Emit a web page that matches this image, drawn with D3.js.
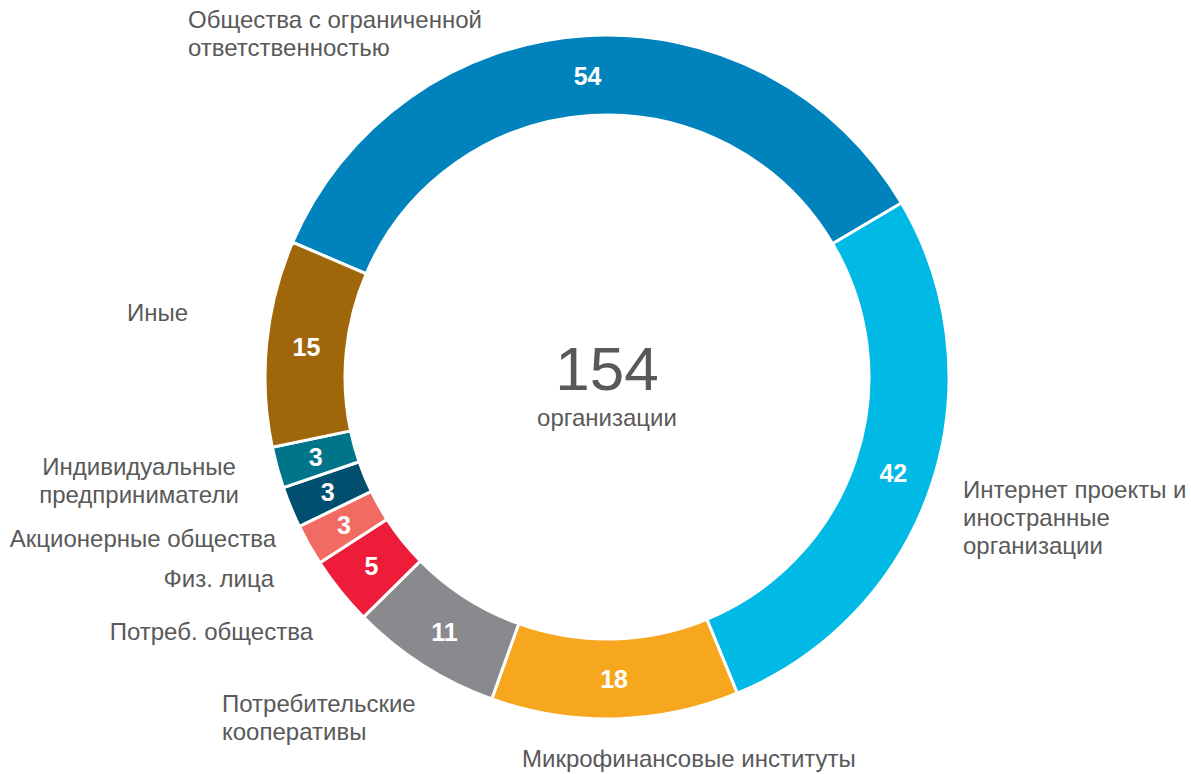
<!DOCTYPE html>
<html>
<head>
<meta charset="utf-8">
<script src="https://cdn.jsdelivr.net/npm/d3@7"></script>
<style>
  body { margin: 0; background: #fff; }
  text { font-family: "Liberation Sans", Arial, sans-serif; }
</style>
</head>
<body>
<div id="container"></div>
<script>
let w = 1191;
let h = 774;

// data, clockwise from the big blue slice
let categories = [
  "Общества с ограниченной ответственностью",
  "Интернет проекты и иностранные организации",
  "Микрофинансовые институты",
  "Потребительские кооперативы",
  "Потреб. общества",
  "Физ. лица",
  "Акционерные общества",
  "Индивидуальные предприниматели",
  "Иные"
];
let values = [54, 42, 18, 11, 5, 3, 3, 3, 15];
let colors = ["#0083BD", "#00B9E5", "#F6A71E", "#898A8E", "#ED1C38", "#F26B63", "#004F6E", "#007489", "#A0670A"];

// label text broken into lines, and where it sits (layout only)
let labelLines = [
  ["Общества с ограниченной", "ответственностью"],
  ["Интернет проекты и", "иностранные", "организации"],
  ["Микрофинансовые институты"],
  ["Потребительские", "кооперативы"],
  ["Потреб. общества"],
  ["Физ. лица"],
  ["Акционерные общества"],
  ["Индивидуальные", "предприниматели"],
  ["Иные"]
];
let labelPos = [
  {x: 188, y: 28, anchor: "start"},
  {x: 963, y: 498, anchor: "start"},
  {x: 522, y: 767, anchor: "start"},
  {x: 222, y: 712, anchor: "start"},
  {x: 313, y: 640, anchor: "end"},
  {x: 274, y: 587, anchor: "end"},
  {x: 276, y: 547, anchor: "end"},
  {x: 139, y: 475, anchor: "middle"},
  {x: 188, y: 321, anchor: "end"}
];

let total = d3.sum(values);

let viz = d3.select("#container")
  .append("svg")
  .attr("width", w)
  .attr("height", h)
  .style("background-color", "white");

let cx = 607;
let cy = 377;
let outerR = 342;
let innerR = 262;

let startDeg = -66.8;
let pie = d3.pie()
  .sort(null)
  .startAngle(startDeg * Math.PI / 180)
  .endAngle((startDeg + 360) * Math.PI / 180);

let arc = d3.arc().innerRadius(innerR).outerRadius(outerR);

let slices = pie(values);

let donut = viz.append("g")
  .attr("class", "donut")
  .attr("transform", "translate(" + cx + "," + cy + ")");

donut.selectAll("path")
  .data(slices)
  .enter()
  .append("path")
  .attr("d", arc)
  .style("fill", function(d, i){ return colors[i]; })
  .style("stroke", "white")
  .style("stroke-width", 3);

donut.selectAll(".val")
  .data(slices)
  .enter()
  .append("text")
  .attr("class", "val")
  .attr("transform", function(d){ return "translate(" + arc.centroid(d) + ")"; })
  .attr("text-anchor", "middle")
  .attr("dy", "0.36em")
  .style("fill", "white")
  .style("font-weight", "bold")
  .style("font-size", "25px")
  .text(function(d){ return d.data; });

// center total
donut.append("text")
  .attr("text-anchor", "middle")
  .attr("y", 13)
  .style("fill", "#595959")
  .style("font-size", "62px")
  .text(total);

donut.append("text")
  .attr("text-anchor", "middle")
  .attr("y", 49)
  .style("fill", "#595959")
  .style("font-size", "24px")
  .text("организации");

// category labels
let labels = viz.selectAll(".cat")
  .data(categories)
  .enter()
  .append("text")
  .attr("class", "cat")
  .attr("x", function(d, i){ return labelPos[i].x; })
  .attr("y", function(d, i){ return labelPos[i].y; })
  .attr("text-anchor", function(d, i){ return labelPos[i].anchor; })
  .style("fill", "#595959")
  .style("font-size", "24px");

labels.each(function(d, i){
  let t = d3.select(this);
  labelLines[i].forEach(function(line, j){
    t.append("tspan")
      .attr("x", labelPos[i].x)
      .attr("dy", j == 0 ? 0 : 28)
      .text(line);
  });
});
</script>
</body>
</html>
